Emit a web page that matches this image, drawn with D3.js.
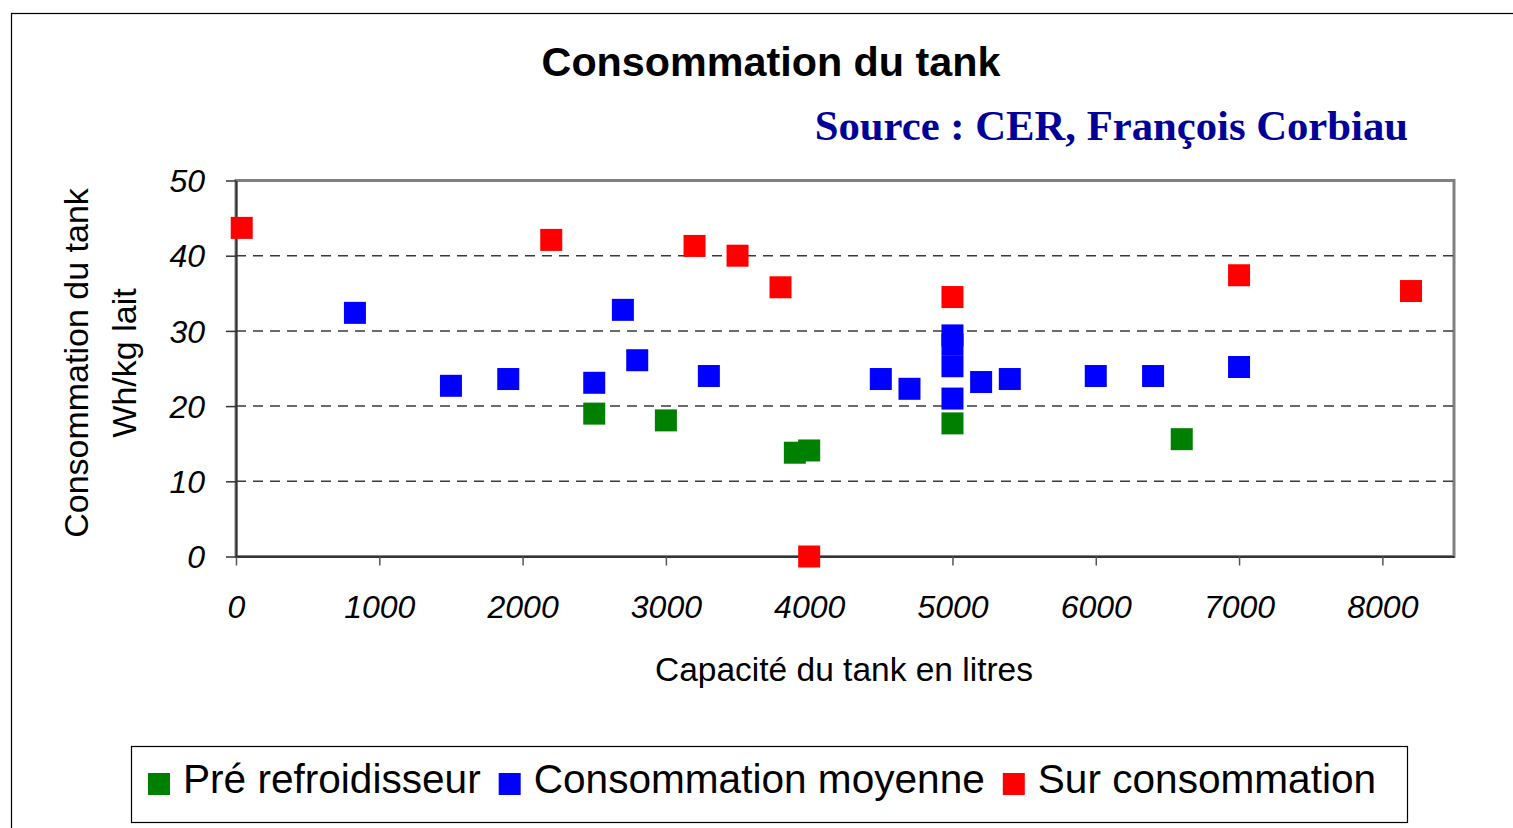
<!DOCTYPE html>
<html>
<head>
<meta charset="utf-8">
<script src="https://cdn.jsdelivr.net/npm/d3@7"></script>
<style>
  body { margin: 0; background: #fff; }
  text { font-family: "Liberation Sans", Arial, sans-serif; }
</style>
</head>
<body>
<script>
// Consommation du tank - scatter by series

var preX = [2500, 3000, 3900, 4000, 5000, 6600];
var preY = [19.0, 18.1, 13.8, 14.1, 17.7, 15.6];

var moyX = [830, 1500, 1900, 2500, 2700, 2800, 3300, 4500, 4700, 5000, 5000, 5000, 5000, 5200, 5400, 6000, 6400, 7000];
var moyY = [32.4, 22.7, 23.6, 23.1, 32.8, 26.1, 24.0, 23.6, 22.3, 29.4, 28.2, 25.3, 21.0, 23.2, 23.6, 24.0, 24.0, 25.2];

var surX = [40, 2200, 3200, 3500, 3800, 4000, 5000, 7000, 8200];
var surY = [43.7, 42.1, 41.3, 40.0, 35.8, 0, 34.5, 37.4, 35.3];

var seriesNames = ["Pré refroidisseur", "Consommation moyenne", "Sur consommation"];
var seriesColors = ["#008000", "#0000ff", "#ff0000"];

var xTicks = [0, 1000, 2000, 3000, 4000, 5000, 6000, 7000, 8000];
var yTicks = [0, 10, 20, 30, 40, 50];

var width = 1513, height = 828;
var margin = { top: 180.5, right: 59, bottom: 271.5, left: 236 };

var svg = d3.select("body").append("svg")
    .attr("width", width)
    .attr("height", height);

// outer frame (goes off the page on right/bottom)
svg.append("rect")
    .attr("x", 11.5).attr("y", 13.5)
    .attr("width", 1520).attr("height", 830)
    .attr("fill", "none").attr("stroke", "#000").attr("stroke-width", 1.2);

var xScale = d3.scaleLinear()
    .domain([0, 8500])
    .range([margin.left, width - margin.right]);

var yScale = d3.scaleLinear()
    .domain([0, 50])
    .range([height - margin.bottom, margin.top]);

// plot area border (gray top/right)
svg.append("rect")
    .attr("x", xScale(0)).attr("y", yScale(50))
    .attr("width", xScale(8500) - xScale(0))
    .attr("height", yScale(0) - yScale(50))
    .attr("fill", "none").attr("stroke", "#808080").attr("stroke-width", 3);

// dashed gridlines
svg.append("g").selectAll("line")
    .data(yTicks.filter(d => d > 0 && d < 50))
    .enter().append("line")
    .attr("x1", xScale(0)).attr("x2", xScale(8500))
    .attr("y1", d => yScale(d)).attr("y2", d => yScale(d))
    .attr("stroke", "#3a3a3a").attr("stroke-width", 1.5)
    .attr("stroke-dasharray", "10,7");

var xAxis = g => g
    .attr("transform", "translate(0," + yScale(0) + ")")
    .call(d3.axisBottom(xScale).tickValues(xTicks).tickFormat(d3.format("d"))
        .tickSize(9).tickSizeOuter(0).tickPadding(0))
    .call(g => g.select(".domain").attr("stroke", "#333").attr("stroke-width", 2))
    .call(g => g.selectAll(".tick line").attr("stroke", "#555").attr("stroke-width", 1.5))
    .call(g => g.selectAll(".tick text")
        .attr("y", 61).attr("dy", 0)
        .attr("fill", "#000")
        .style("font-size", "32px").style("font-style", "italic")
        .style("font-family", "'Liberation Sans', Arial, sans-serif"));

var yAxis = g => g
    .attr("transform", "translate(" + xScale(0) + ",0)")
    .call(d3.axisLeft(yScale).tickValues(yTicks).tickSize(10).tickSizeOuter(0).tickPadding(21))
    .call(g => g.select(".domain").attr("stroke", "#333").attr("stroke-width", 2))
    .call(g => g.selectAll(".tick line").attr("stroke", "#333").attr("stroke-width", 1.5))
    .call(g => g.selectAll(".tick text")
        .attr("dy", "0.35em")
        .attr("fill", "#000")
        .style("font-size", "32px").style("font-style", "italic")
        .style("font-family", "'Liberation Sans', Arial, sans-serif"));

svg.append("g").call(xAxis);
svg.append("g").call(yAxis);

// points
var size = 22;
var series = [
    preX.map((x, i) => ({ x: x, y: preY[i] })),
    moyX.map((x, i) => ({ x: x, y: moyY[i] })),
    surX.map((x, i) => ({ x: x, y: surY[i] }))
];

series.forEach(function(pts, s) {
    svg.append("g").selectAll("rect")
        .data(pts)
        .enter().append("rect")
        .attr("x", d => xScale(d.x) - size / 2)
        .attr("y", d => yScale(d.y) - size / 2)
        .attr("width", size).attr("height", size)
        .attr("fill", seriesColors[s]);
});

// titles
svg.append("text")
    .attr("x", 771).attr("y", 76)
    .attr("text-anchor", "middle")
    .style("font-size", "41.3px").style("font-weight", "bold")
    .text("Consommation du tank");

svg.append("text")
    .attr("x", 1408).attr("y", 140)
    .attr("text-anchor", "end")
    .attr("fill", "#000099")
    .style("font-family", "'Liberation Serif', 'Times New Roman', serif")
    .style("font-size", "42.7px").style("font-weight", "bold")
    .text("Source : CER, François Corbiau");

svg.append("text")
    .attr("x", 844).attr("y", 681)
    .attr("text-anchor", "middle")
    .style("font-size", "33.5px")
    .text("Capacité du tank en litres");

var yTitle = svg.append("text")
    .attr("transform", "translate(88,363) rotate(-90)")
    .attr("text-anchor", "middle")
    .style("font-size", "34px");
yTitle.append("tspan").attr("x", 0).attr("y", 0).text("Consommation du tank");
yTitle.append("tspan").attr("x", 0).attr("y", 48).text("Wh/kg lait");

// legend
var legend = svg.append("g");
legend.append("rect")
    .attr("x", 131.5).attr("y", 746.5)
    .attr("width", 1276).attr("height", 76)
    .attr("fill", "#fff").attr("stroke", "#000").attr("stroke-width", 1.2);

var lx = 148;
seriesNames.forEach(function(name, i) {
    legend.append("rect")
        .attr("x", lx).attr("y", 773)
        .attr("width", 22).attr("height", 22)
        .attr("fill", seriesColors[i]);
    var t = legend.append("text")
        .attr("x", lx + 35).attr("y", 793)
        .style("font-size", "40.6px")
        .text(name);
    lx = lx + 35 + t.node().getComputedTextLength() + 18;
});
</script>
</body>
</html>
